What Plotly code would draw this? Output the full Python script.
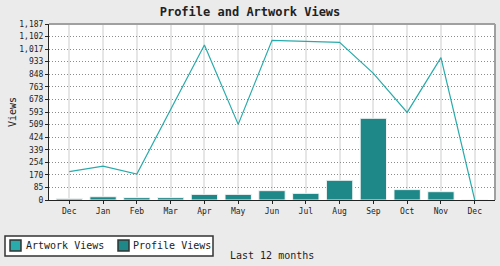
import plotly.graph_objects as go

months = ["Dec", "Jan", "Feb", "Mar", "Apr", "May", "Jun", "Jul", "Aug", "Sep", "Oct", "Nov", "Dec"]
artwork_views = [191, 229, 175, 610, 1045, 510, 1077, 1070, 1063, 854, 591, 960, 0]
profile_views = [9, 22, 16, 16, 38, 38, 63, 45, 133, 551, 70, 56, 0]
y_ticks = [0, 85, 170, 254, 339, 424, 509, 593, 678, 763, 848, 933, 1017, 1102, 1187]

LINE_C = "#2aabab"
BAR_C = "#1e8787"
FONT = "DejaVu Sans Mono"

# plot area in pixels (for converting legend placement to paper coords)
PL, PR, PT, PB = 49, 495, 24, 200
def px(x):
    return (x - PL) / (PR - PL)
def py(y):
    return (PB - y) / (PB - PT)

x_idx = list(range(len(months)))

fig = go.Figure()
fig.add_trace(go.Bar(
    x=x_idx, y=profile_views, name="Profile Views",
    marker=dict(color=BAR_C, line=dict(color="#f4f4f4", width=1)),
    width=0.78, showlegend=False,
))
fig.add_trace(go.Scatter(
    x=x_idx, y=artwork_views, name="Artwork Views", mode="lines",
    line=dict(color=LINE_C, width=1.2), showlegend=False,
))

shapes = [
    dict(type="line", xref="paper", yref="paper", x0=0, x1=1, y0=1, y1=1,
         line=dict(color="#a0a0a0", width=2)),
    dict(type="line", xref="paper", yref="paper", x0=1, x1=1, y0=0, y1=1,
         line=dict(color="#a0a0a0", width=2)),
    # legend box
    dict(type="rect", xref="paper", yref="paper", x0=px(5), x1=px(213), y0=py(236), y1=py(256),
         fillcolor="white", line=dict(color="#333", width=1.5)),
    dict(type="rect", xref="paper", yref="paper", x0=px(10), x1=px(21), y0=py(240), y1=py(251),
         fillcolor=LINE_C, line=dict(color="#333", width=1.5)),
    dict(type="rect", xref="paper", yref="paper", x0=px(118), x1=px(129), y0=py(240), y1=py(251),
         fillcolor=BAR_C, line=dict(color="#333", width=1.5)),
]

fig.update_layout(
    width=500, height=266,
    margin=dict(l=PL, r=500 - PR, t=PT, b=266 - PB),
    paper_bgcolor="#ebebeb", plot_bgcolor="white",
    font=dict(family=FONT, size=8, color="#222"),
    title=dict(text="<b>Profile and Artwork Views</b>", x=0.5, xref="container",
               y=1 - 12 / 266, yref="container", xanchor="center", yanchor="middle",
               font=dict(family=FONT, size=12, color="#222")),
    showlegend=False,
    xaxis=dict(
        tickmode="array", tickvals=x_idx, ticktext=months,
        range=[-0.6, 12.6], showgrid=True, gridcolor="#e6e6e6", gridwidth=2,
        showline=True, linecolor="#222", linewidth=1, mirror=False,
        ticks="outside", ticklen=3, tickcolor="#222",
        tickfont=dict(family=FONT, size=8, color="#222"),
        zeroline=False, fixedrange=True,
    ),
    yaxis=dict(
        tickmode="array", tickvals=y_ticks, ticktext=[f"{v:,}" for v in y_ticks],
        range=[0, 1187], showgrid=True, gridcolor="#8c8c8c", griddash="1px,2px", gridwidth=1,
        showline=True, linecolor="#222", linewidth=1,
        ticks="outside", ticklen=3, tickcolor="#222",
        tickfont=dict(family=FONT, size=8, color="#222"),
        zeroline=False, fixedrange=True,
    ),
    shapes=shapes,
    annotations=[
        dict(text="Last 12 months", xref="paper", yref="paper", x=0.5, y=py(255),
             xanchor="center", yanchor="middle", showarrow=False,
             font=dict(family=FONT, size=10, color="#222")),
        dict(text="Views", xref="paper", yref="paper", x=px(12), y=0.5,
             xanchor="center", yanchor="middle", showarrow=False, textangle=-90,
             font=dict(family=FONT, size=10, color="#222")),
        dict(text="Artwork Views", xref="paper", yref="paper", x=px(24), y=py(246),
             xanchor="left", yanchor="middle", showarrow=False,
             font=dict(family=FONT, size=10, color="#222")),
        dict(text="Profile Views", xref="paper", yref="paper", x=px(131), y=py(246),
             xanchor="left", yanchor="middle", showarrow=False,
             font=dict(family=FONT, size=10, color="#222")),
    ],
)

fig.write_html("out.html")
